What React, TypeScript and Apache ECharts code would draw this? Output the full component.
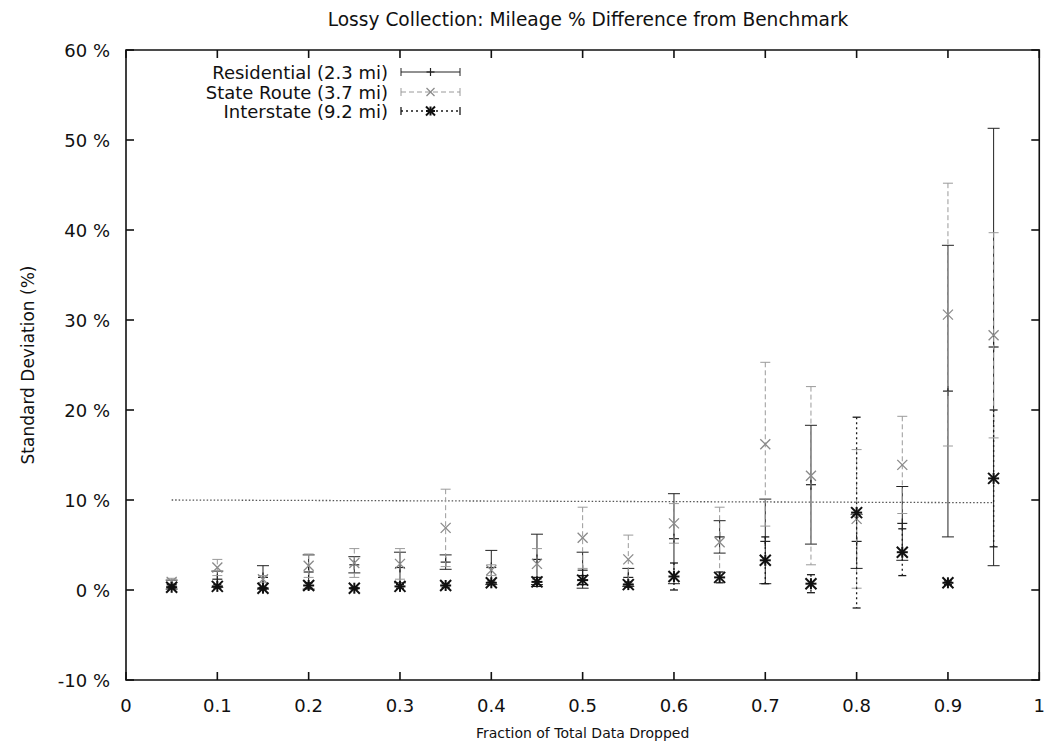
import React, { useEffect, useRef } from "react";
import * as echarts from "echarts";

// ---- data ----
const fractions = [0.05, 0.1, 0.15, 0.2, 0.25, 0.3, 0.35, 0.4, 0.45, 0.5, 0.55, 0.6, 0.65, 0.7, 0.75, 0.8, 0.85, 0.9, 0.95];

const residentialMean = [0.6, 1.2, 1.4, 2.0, 2.8, 2.5, 3.1, 2.5, 3.4, 2.2, 1.4, 5.7, 5.9, 5.4, 11.7, 5.4, 7.4, 22.1, 27.0];
const residentialErr = [0.5, 0.9, 1.3, 1.9, 0.9, 1.7, 0.8, 1.9, 2.8, 2.0, 1.0, 5.0, 1.8, 4.7, 6.6, 3.0, 4.1, 16.2, 24.3];

const stateRouteMean = [0.9, 2.5, 1.2, 2.7, 3.0, 2.9, 6.9, 2.2, 2.9, 5.8, 3.4, 7.4, 5.3, 16.2, 12.7, 7.9, 13.9, 30.6, 28.3];
const stateRouteErr = [0.4, 0.9, 0.4, 1.3, 1.6, 1.7, 4.3, 0.6, 1.7, 3.4, 2.7, 2.2, 3.9, 9.1, 9.9, 7.7, 5.4, 14.6, 11.4];

const interstateMean = [0.3, 0.4, 0.2, 0.5, 0.2, 0.4, 0.5, 0.8, 0.9, 1.1, 0.6, 1.5, 1.4, 3.3, 0.7, 8.6, 4.2, 0.8, 12.4];
const interstateErr = [0.1, 0.2, 0.1, 0.3, 0.1, 0.2, 0.2, 0.2, 0.5, 0.5, 0.3, 1.5, 0.6, 2.6, 1.0, 10.6, 2.6, 0.2, 7.6];

const thresholdX = [0.05, 0.95];
const thresholdY = [10, 9.7];

const xTicks = [0, 0.1, 0.2, 0.3, 0.4, 0.5, 0.6, 0.7, 0.8, 0.9, 1];
const yTicks = [-10, 0, 10, 20, 30, 40, 50, 60];

const seriesNames = ["Residential (2.3 mi)", "State Route (3.7 mi)", "Interstate (9.2 mi)"];

const TITLE = "Lossy Collection: Mileage % Difference from Benchmark";
const X_NAME = "Fraction of Total Data Dropped";
const Y_NAME = "Standard Deviation (%)";

const FONT = "DejaVu Sans";
const INK = "#111";

type Style = { color: string; width: number; dash: number[] | null; marker: "plus" | "cross" | "star"; mColor: string; mWidth: number; size: number; cap: number };

const styles: Style[] = [
  { color: "#222", width: 1, dash: null, marker: "plus", mColor: "#222", mWidth: 1.2, size: 5, cap: 6 },
  { color: "#9a9a9a", width: 1, dash: [5, 3], marker: "cross", mColor: "#8a8a8a", mWidth: 1.3, size: 5, cap: 5 },
  { color: "#1a1a1a", width: 1.3, dash: [2, 3], marker: "star", mColor: "#111", mWidth: 2, size: 5.5, cap: 4 },
];

function markerLines(kind: string, cx: number, cy: number, s: number, color: string, w: number) {
  const st = { stroke: color, lineWidth: w };
  const out: any[] = [];
  if (kind === "plus" || kind === "star") {
    out.push({ type: "line", shape: { x1: cx - s, y1: cy, x2: cx + s, y2: cy }, style: st });
    out.push({ type: "line", shape: { x1: cx, y1: cy - s, x2: cx, y2: cy + s }, style: st });
  }
  if (kind === "cross" || kind === "star") {
    out.push({ type: "line", shape: { x1: cx - s, y1: cy - s, x2: cx + s, y2: cy + s }, style: st });
    out.push({ type: "line", shape: { x1: cx - s, y1: cy + s, x2: cx + s, y2: cy - s }, style: st });
  }
  return out;
}

function makeRender(st: Style) {
  return (params: any, api: any) => {
    const x = api.value(0);
    const y = api.value(1);
    const e = api.value(2);
    const c = api.coord([x, y]);
    const hi = api.coord([x, y + e]);
    const lo = api.coord([x, y - e]);
    const ls: any = { stroke: st.color, lineWidth: st.width };
    if (st.dash) ls.lineDash = st.dash;
    const capStyle = { stroke: st.color, lineWidth: st.width };
    const children: any[] = [
      { type: "line", shape: { x1: c[0], y1: hi[1], x2: c[0], y2: lo[1] }, style: ls },
      { type: "line", shape: { x1: c[0] - st.cap, y1: hi[1], x2: c[0] + st.cap, y2: hi[1] }, style: capStyle },
      { type: "line", shape: { x1: c[0] - st.cap, y1: lo[1], x2: c[0] + st.cap, y2: lo[1] }, style: capStyle },
      ...markerLines(st.marker, c[0], c[1], st.size, st.mColor, st.mWidth),
    ];
    return { type: "group", children };
  };
}

function legendGraphic() {
  const textRight = 388;
  const x1 = 401;
  const x2 = 460;
  const rows = [72, 92, 111];
  const els: any[] = [];
  seriesNames.forEach((name, i) => {
    const st = styles[i];
    const y = rows[i];
    els.push({
      type: "text",
      x: textRight,
      y,
      style: { text: name, font: `18px "${FONT}"`, fill: INK, align: "right", verticalAlign: "middle" },
    });
    const ls: any = { stroke: st.color, lineWidth: st.width };
    if (st.dash) ls.lineDash = st.dash;
    els.push({ type: "line", shape: { x1, y1: y, x2, y2: y }, style: ls });
    els.push({ type: "line", shape: { x1, y1: y - 4, x2: x1, y2: y + 4 }, style: { stroke: st.color, lineWidth: st.width } });
    els.push({ type: "line", shape: { x1: x2, y1: y - 4, x2, y2: y + 4 }, style: { stroke: st.color, lineWidth: st.width } });
    markerLines(st.marker, (x1 + x2) / 2, y, st.size - 1, st.mColor, st.mWidth).forEach((m) => els.push(m));
  });
  return els;
}

// gnuplot-style border with inward ticks on all four sides, positioned through the chart's own scales
function frameGraphic(chart: any) {
  const xMin = xTicks[0];
  const xMax = xTicks[xTicks.length - 1];
  const yMin = yTicks[0];
  const yMax = yTicks[yTicks.length - 1];
  const bl = chart.convertToPixel({ gridIndex: 0 }, [xMin, yMin]);
  const tr = chart.convertToPixel({ gridIndex: 0 }, [xMax, yMax]);
  if (!bl || !tr) return [];
  const st = { stroke: INK, lineWidth: 1.6 };
  const L = 8;
  const els: any[] = [
    { type: "rect", shape: { x: bl[0], y: tr[1], width: tr[0] - bl[0], height: bl[1] - tr[1] }, style: { stroke: INK, lineWidth: 1.6, fill: "transparent" }, silent: true, z: 100 },
  ];
  xTicks.forEach((v) => {
    const p = chart.convertToPixel({ gridIndex: 0 }, [v, yMin]);
    els.push({ type: "line", shape: { x1: p[0], y1: bl[1], x2: p[0], y2: bl[1] - L }, style: st, silent: true, z: 100 });
    els.push({ type: "line", shape: { x1: p[0], y1: tr[1], x2: p[0], y2: tr[1] + L }, style: st, silent: true, z: 100 });
  });
  yTicks.forEach((v) => {
    const p = chart.convertToPixel({ gridIndex: 0 }, [xMin, v]);
    els.push({ type: "line", shape: { x1: bl[0], y1: p[1], x2: bl[0] + L, y2: p[1] }, style: st, silent: true, z: 100 });
    els.push({ type: "line", shape: { x1: tr[0], y1: p[1], x2: tr[0] - L, y2: p[1] }, style: st, silent: true, z: 100 });
  });
  return els;
}

export default function App() {
  const ref = useRef<HTMLDivElement>(null);
  useEffect(() => {
    if (!ref.current) return;
    const chart = echarts.init(ref.current, undefined, { renderer: "svg" });
    const tickFont = { fontFamily: FONT, fontSize: 18, color: INK };
    const mk = (mean: number[], err: number[]) => fractions.map((f, i) => [f, mean[i], err[i]]);
    const option: any = {
      animation: false,
      title: {
        text: TITLE,
        left: 583,
        top: 5,
        textAlign: "center",
        textStyle: { fontFamily: FONT, fontSize: 18.6, fontWeight: "normal", color: INK },
      },
      grid: { left: 126, right: 5, top: 50, bottom: 66 },
      xAxis: {
        type: "value",
        min: xTicks[0],
        max: xTicks[xTicks.length - 1],
        interval: 0.1,
        axisLine: { show: false, onZero: false },
        axisTick: { show: false },
        splitLine: { show: false },
        axisLabel: { ...tickFont, margin: 16, formatter: (v: number) => String(Math.round(v * 10) / 10) },
        name: X_NAME,
        nameLocation: "middle",
        nameGap: 46,
        nameTextStyle: { fontFamily: FONT, fontSize: 14, color: INK },
      },
      yAxis: {
        type: "value",
        min: yTicks[0],
        max: yTicks[yTicks.length - 1],
        interval: 10,
        axisLine: { show: false, onZero: false },
        axisTick: { show: false },
        splitLine: { show: false },
        axisLabel: { ...tickFont, margin: 16, formatter: (v: number) => `${v} %` },
        name: Y_NAME,
        nameLocation: "middle",
        nameGap: 90,
        nameTextStyle: { fontFamily: FONT, fontSize: 17, color: INK },
      },
      series: [
        {
          type: "line",
          name: "threshold",
          data: thresholdX.map((x, i) => [x, thresholdY[i]]),
          showSymbol: false,
          symbol: "none",
          silent: true,
          lineStyle: { color: "#555", width: 1.3, type: [1.5, 2] },
          z: 1,
        },
        { type: "custom", name: seriesNames[0], data: mk(residentialMean, residentialErr), renderItem: makeRender(styles[0]), z: 2 },
        { type: "custom", name: seriesNames[1], data: mk(stateRouteMean, stateRouteErr), renderItem: makeRender(styles[1]), z: 3 },
        { type: "custom", name: seriesNames[2], data: mk(interstateMean, interstateErr), renderItem: makeRender(styles[2]), z: 4 },
      ],
    };
    chart.setOption(option);
    chart.setOption({ graphic: { elements: [...legendGraphic(), ...frameGraphic(chart)] } });
    return () => chart.dispose();
  }, []);
  return <div ref={ref} style={{ position: "fixed", left: 0, top: 0, width: 1048, height: 746, background: "#fff" }} />;
}
